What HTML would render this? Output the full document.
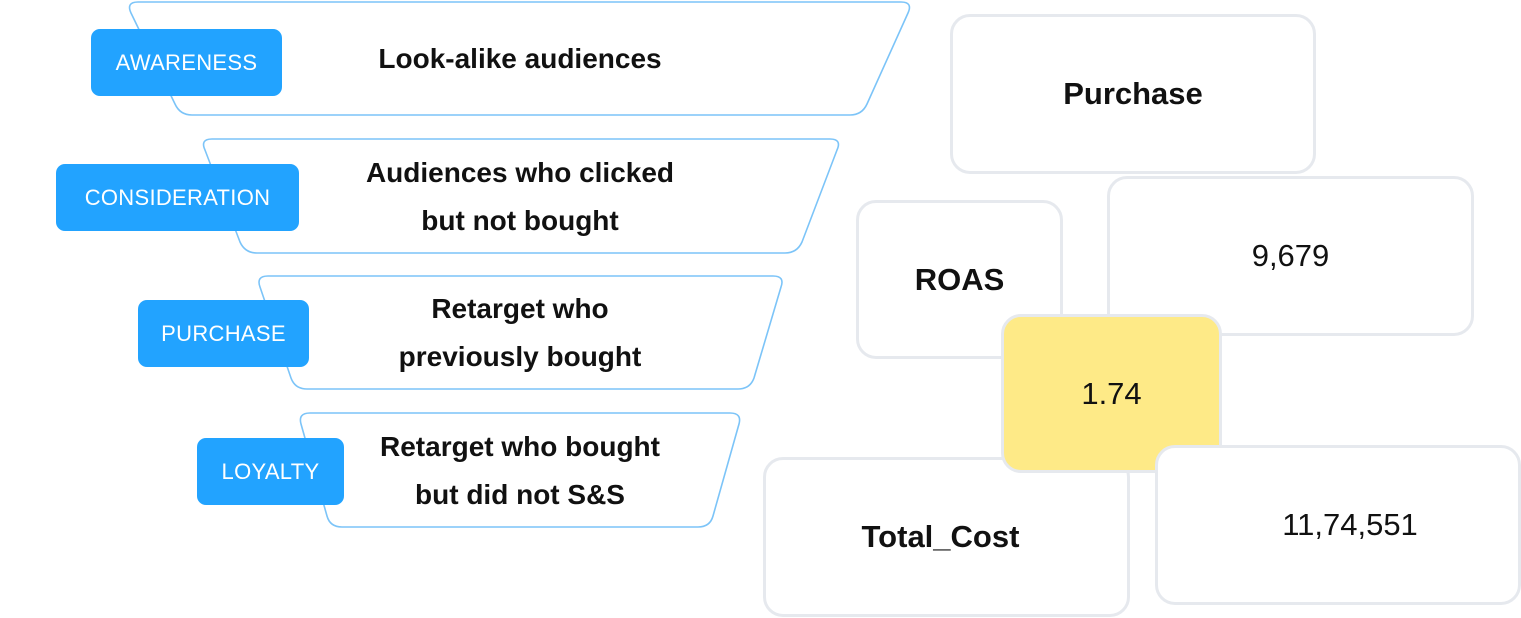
<!DOCTYPE html>
<html><head><meta charset="utf-8"><style>
html,body{margin:0;padding:0;background:#fff;width:1521px;height:618px;overflow:hidden;position:relative;font-family:"Liberation Sans",sans-serif;}
svg{position:absolute;left:0;top:0;}
.lab{position:absolute;background:#22a3ff;color:#fff;border-radius:9px;font-size:22px;display:flex;align-items:center;justify-content:center;letter-spacing:0.3px;}
.bt{position:absolute;font-weight:bold;font-size:28px;color:#111;text-align:center;line-height:48px;}
.box{position:absolute;box-sizing:border-box;border:3px solid #e6e9ee;border-radius:20px;background:#fff;display:flex;align-items:center;justify-content:center;font-size:31px;color:#111;}
.b{font-weight:bold;}
</style></head><body>
<svg width="1521" height="618" fill="#fff" stroke="#7cc4f8" stroke-width="1.6">
<path d="M138,2 L901,2 Q913,2 908,13 L867,104 Q862,115 850,115 L192,115 Q180,115 175,104 L131,13 Q126,2 138,2Z"/>
<path d="M212,139 L830,139 Q842,139 837,150 L802,242 Q797,253 785,253 L257,253 Q245,253 240,242 L205,150 Q200,139 212,139Z"/>
<path d="M268,276 L773,276 Q785,276 781,287 L754,378 Q750,389 738,389 L307,389 Q295,389 291,378 L260,287 Q256,276 268,276Z"/>
<path d="M310,413 L730,413 Q742,413 739,424 L713,516 Q710,527 698,527 L342,527 Q330,527 327,516 L301,424 Q298,413 310,413Z"/>
</svg>
<div class="lab" style="left:91px;top:29px;width:191px;height:67px;">AWARENESS</div>
<div class="lab" style="left:56px;top:164px;width:243px;height:67px;">CONSIDERATION</div>
<div class="lab" style="left:138px;top:300px;width:171px;height:67px;">PURCHASE</div>
<div class="lab" style="left:197px;top:438px;width:147px;height:67px;">LOYALTY</div>
<div class="bt" style="left:320px;width:400px;top:35px;">Look-alike audiences</div>
<div class="bt" style="left:320px;width:400px;top:149px;">Audiences who clicked<br>but not bought</div>
<div class="bt" style="left:320px;width:400px;top:285px;">Retarget who<br>previously bought</div>
<div class="bt" style="left:320px;width:400px;top:423px;">Retarget who bought<br>but did not S&amp;S</div>

<div class="box b" style="left:950px;top:14px;width:366px;height:160px;">Purchase</div>
<div class="box" style="left:1107px;top:176px;width:367px;height:160px;">9,679</div>
<div class="box b" style="left:856px;top:200px;width:207px;height:159px;">ROAS</div>
<div class="box" style="left:763px;top:457px;width:367px;height:160px;"><span class="b" style="position:relative;left:-6px">Total_Cost</span></div>
<div class="box" style="left:1001px;top:314px;width:221px;height:159px;background:#feea87;">1.74</div>
<div class="box" style="left:1155px;top:445px;width:366px;height:160px;"><span style="position:relative;left:12px">11,74,551</span></div>
</body></html>
